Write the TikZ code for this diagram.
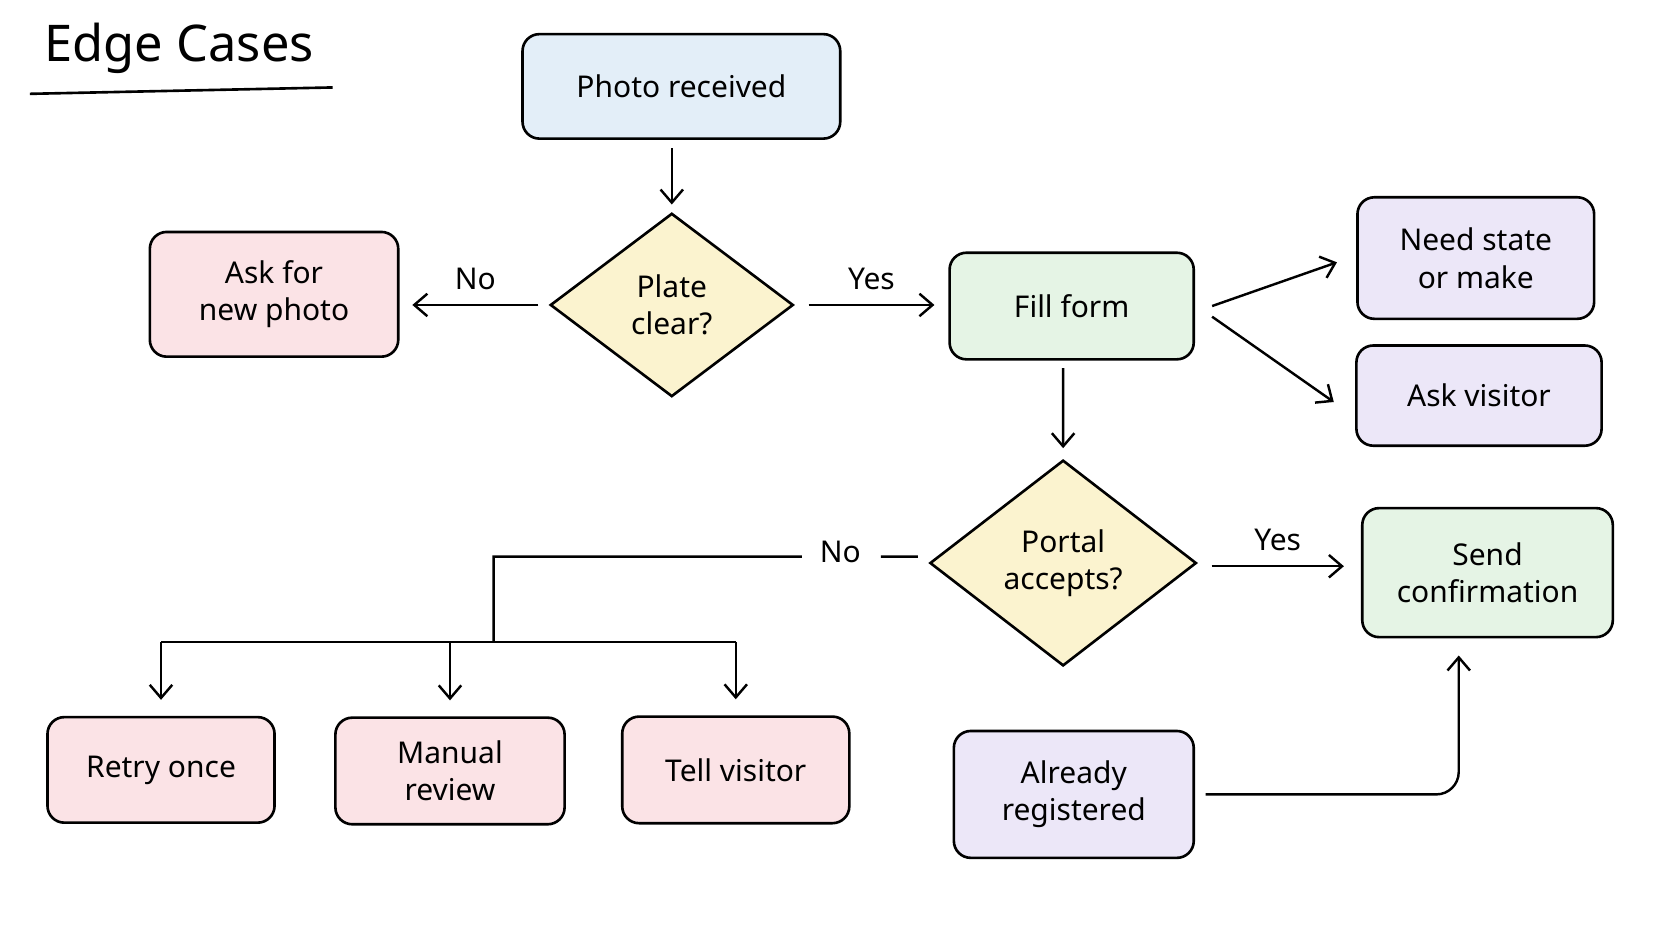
\documentclass[tikz,border=0pt]{standalone}
\usepackage{fontspec}
\setmainfont{Noto Sans}
\usetikzlibrary{shapes.geometric,arrows.meta}
\definecolor{fblue}{HTML}{E3EEF8}
\definecolor{fred}{HTML}{FBE3E6}
\definecolor{fgreen}{HTML}{E5F4E5}
\definecolor{fyellow}{HTML}{FBF3CF}
\definecolor{fpurple}{HTML}{ECE7F8}
\tikzset{
  box/.style={rectangle, rounded corners=9pt, draw, line width=1.4pt, align=center, font=\fontsize{16}{20}\selectfont},
  decide/.style={diamond, draw, line width=1.4pt, fill=fyellow, inner sep=0pt, align=center, font=\fontsize{16}{20}\selectfont},
  flow/.style={-{Straight Barb[length=7pt,width=12pt]}, line width=1.3pt},
  lbl/.style={font=\fontsize{16}{20}\selectfont}
}
\begin{document}
\begin{tikzpicture}[x=0.02cm, y=-0.02cm]
    \useasboundingbox (0,0) rectangle (1568,882);
    % Title
    \node [font=\fontsize{27}{32}\selectfont] (title) at (168,45) {Edge Cases};
    \draw [line width=1.4pt] (28,88) -- (312,82);

    % Define nodes
    \node [box, fill=fblue, minimum width=5.96cm, minimum height=1.96cm] (photo) at (639,81) {Photo received};
    \node [decide, minimum width=4.56cm, minimum height=3.44cm] (plate) at (630,286) {Plate\\clear?};
    \node [box, fill=fred, minimum width=4.66cm, minimum height=2.34cm] (newphoto) at (257,276) {Ask for\\new photo};
    \node [box, fill=fgreen, minimum width=4.58cm, minimum height=2cm] (fill) at (1005,287) {Fill form};
    \node [box, fill=fpurple, minimum width=4.44cm, minimum height=2.28cm] (needstate) at (1384,242) {Need state\\or make};
    \node [box, fill=fpurple, minimum width=4.6cm, minimum height=1.88cm] (askvisitor) at (1387,371) {Ask visitor};
    \node [decide, minimum width=5cm, minimum height=3.86cm] (portal) at (997,528) {Portal\\accepts?};
    \node [box, fill=fgreen, minimum width=4.7cm, minimum height=2.42cm] (confirm) at (1395,537) {Send\\confirmation};
    \node [box, fill=fpurple, minimum width=4.5cm, minimum height=2.38cm] (registered) at (1007,745) {Already\\registered};
    \node [box, fill=fred, minimum width=4.26cm, minimum height=1.98cm] (retry) at (151,722) {Retry once};
    \node [box, fill=fred, minimum width=4.3cm, minimum height=2cm] (manual) at (422,723) {Manual\\review};
    \node [box, fill=fred, minimum width=4.26cm, minimum height=2cm] (tell) at (690,722) {Tell visitor};
    \coordinate (split) at (463,602);
    \coordinate (upturn) at (1368,745);

    % Draw edges
    \draw [flow] ([yshift=-0.16cm]photo.south -| plate.north) -- ([yshift=0.14cm]plate.north);
    \draw [flow] ([xshift=-0.2cm]plate.west) -- node [lbl, above=4pt] {No} ([xshift=0.24cm]newphoto.east |- plate.west);
    \draw [flow] ([xshift=0.26cm]plate.east) -- node [lbl, above=4pt] {Yes} ([xshift=-0.26cm]fill.west |- plate.east);
    \draw [flow] ([xshift=0.32cm]fill.east) -- ([xshift=-0.36cm,yshift=-0.08cm]needstate.west);
    \draw [flow] ([xshift=0.32cm,yshift=-0.2cm]fill.east) -- ([xshift=-0.4cm,yshift=-0.12cm]askvisitor.west);
    \draw [flow] ([xshift=-0.16cm,yshift=-0.14cm]fill.south) -- ([yshift=0.2cm]portal.north);
    \draw [flow] ([xshift=0.26cm,yshift=-0.06cm]portal.east) -- node [lbl, above=4pt] {Yes} ([xshift=-0.32cm,yshift=-0.06cm]portal.east -| confirm.west);
    \draw [line width=1.3pt] ([xshift=-0.2cm,yshift=0.12cm]portal.west) -- (826,522)
          (752,522) -- (463,522) -- (split);
    \node [lbl] (nolabel) at (788,518) {No};
    \draw [line width=1.3pt, rounded corners=4pt] (retry.north |- split) -- (tell.north |- split);
    \draw [flow] (retry.north |- split) -- ([yshift=0.3cm]retry.north);
    \draw [flow] (manual.north |- split) -- ([yshift=0.3cm]manual.north);
    \draw [flow] (tell.north |- split) -- ([yshift=0.3cm]tell.north);
    \draw [flow, rounded corners=12pt] ([xshift=0.2cm]registered.east) -- (upturn) -- ([yshift=-0.32cm]upturn |- confirm.south);
\end{tikzpicture}
\end{document}
